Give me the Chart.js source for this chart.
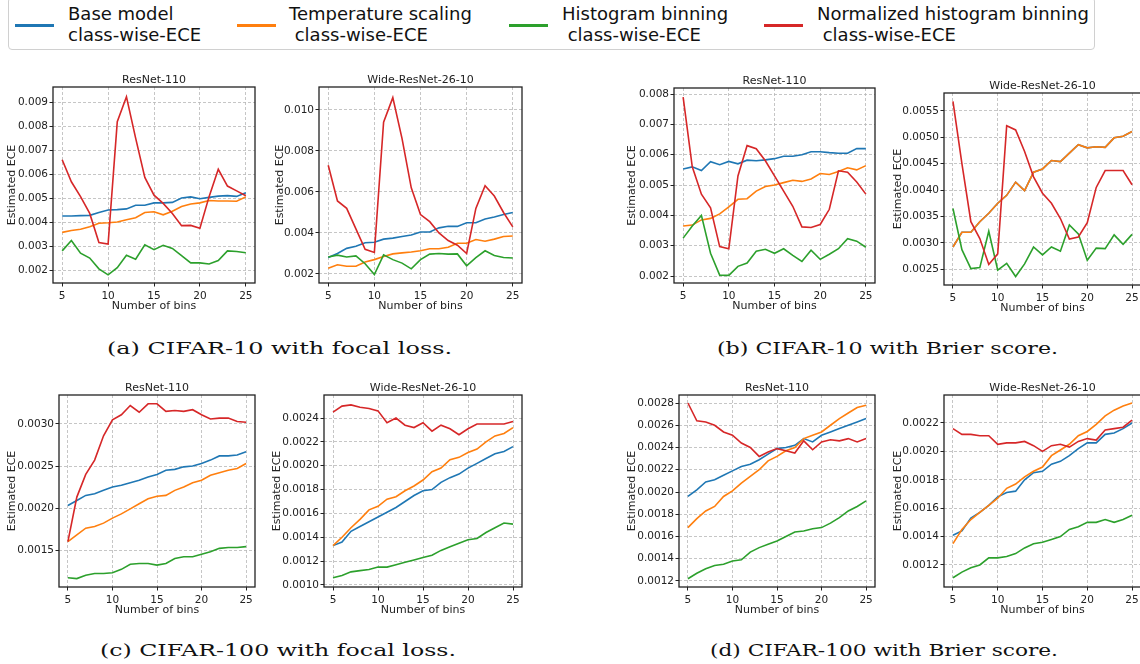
<!DOCTYPE html>
<html>
<head>
<meta charset="utf-8">
<script src="https://cdn.jsdelivr.net/npm/chart.js@4.4.1/dist/chart.umd.min.js"></script>
<style>
  html, body { margin: 0; padding: 0; background: #fff; }
  #fig { position: relative; width: 1140px; height: 664px; overflow: hidden; background: #fff; }
  #legend {
    position: absolute; left: 8px; top: -3px; width: 1087px; height: 53px;
    border: 1px solid #d0d0d0; border-radius: 4px; box-sizing: border-box;
  }
  .swatch { position: absolute; height: 3px; width: 39px; top: 26px; }
  .ltext {
    position: absolute; top: 5px; font-family: "DejaVu Sans", sans-serif; font-size: 18px;
    line-height: 21px; color: #111; white-space: pre;
  }
  .caption {
    position: absolute; font-family: "DejaVu Serif", serif; font-size: 16px; line-height: 20px;
    color: #111; white-space: pre; transform-origin: 0 50%;
  }
</style>
</head>
<body>
<div id="fig"><div id="legend"></div></div>
<script>
const bins = [5, 6, 7, 8, 9, 10, 11, 12, 13, 14, 15, 16, 17, 18, 19, 20, 21, 22, 23, 24, 25];
const xTicks = [5, 10, 15, 20, 25];

const seriesNames = [
  "Base model\nclass-wise-ECE",
  "Temperature scaling\n class-wise-ECE",
  "Histogram binning\n class-wise-ECE",
  "Normalized histogram binning\n class-wise-ECE"
];
const seriesColors = ["#1f77b4", "#ff7f0e", "#2ca02c", "#d62728"];

// (a) CIFAR-10 with focal loss
const a1Base = [0.00425,0.00425,0.00427,0.00428,0.00440,0.00450,0.00452,0.00455,0.00470,0.00470,0.00480,0.00480,0.00482,0.00500,0.00505,0.00497,0.00503,0.00508,0.00510,0.00507,0.00522];
const a1Temp = [0.00357,0.00365,0.00370,0.00380,0.00395,0.00397,0.00400,0.00410,0.00418,0.00440,0.00443,0.00430,0.00445,0.00465,0.00475,0.00480,0.00490,0.00488,0.00488,0.00487,0.00505];
const a1Hist = [0.00280,0.00323,0.00270,0.00250,0.00205,0.00180,0.00210,0.00262,0.00245,0.00305,0.00285,0.00303,0.00290,0.00260,0.00230,0.00230,0.00225,0.00240,0.00280,0.00277,0.00272];
const a1Norm = [0.00660,0.00568,0.00506,0.00436,0.00315,0.00308,0.00818,0.00922,0.00750,0.00586,0.00512,0.00478,0.00436,0.00385,0.00386,0.00374,0.00506,0.00620,0.00550,0.00530,0.00510];

const a2Base = [0.00280,0.00300,0.00325,0.00335,0.00352,0.00355,0.00370,0.00375,0.00383,0.00390,0.00405,0.00405,0.00425,0.00433,0.00432,0.00450,0.00450,0.00468,0.00478,0.00490,0.00500];
const a2Temp = [0.00228,0.00245,0.00238,0.00238,0.00258,0.00270,0.00285,0.00298,0.00303,0.00307,0.00313,0.00323,0.00323,0.00330,0.00350,0.00350,0.00368,0.00360,0.00370,0.00383,0.00385];
const a2Hist = [0.00283,0.00292,0.00283,0.00288,0.00250,0.00197,0.00293,0.00270,0.00253,0.00225,0.00270,0.00297,0.00300,0.00297,0.00298,0.00240,0.00280,0.00313,0.00290,0.00280,0.00278];
const a2Norm = [0.00730,0.00556,0.00520,0.00420,0.00320,0.00305,0.00940,0.01060,0.00860,0.00620,0.00490,0.00455,0.00400,0.00363,0.00340,0.00300,0.00520,0.00630,0.00580,0.00500,0.00430];

// (b) CIFAR-10 with Brier score
const b1Base = [0.00553,0.00560,0.00548,0.00577,0.00567,0.00578,0.00570,0.00582,0.00580,0.00583,0.00587,0.00595,0.00595,0.00600,0.00610,0.00610,0.00607,0.00605,0.00605,0.00620,0.00620];
const b1Temp = [0.00365,0.00368,0.00385,0.00390,0.00405,0.00428,0.00453,0.00455,0.00480,0.00495,0.00500,0.00508,0.00516,0.00512,0.00520,0.00538,0.00535,0.00545,0.00557,0.00550,0.00564];
const b1Hist = [0.00325,0.00365,0.00400,0.00275,0.00203,0.00202,0.00232,0.00243,0.00282,0.00288,0.00275,0.00290,0.00268,0.00248,0.00285,0.00255,0.00272,0.00290,0.00323,0.00315,0.00295];
const b1Norm = [0.00790,0.00560,0.00470,0.00425,0.00297,0.00290,0.00530,0.00630,0.00620,0.00580,0.00530,0.00480,0.00430,0.00362,0.00360,0.00370,0.00420,0.00547,0.00542,0.00510,0.00470];

const b2Base = [0.00292,0.00320,0.00320,0.00340,0.00356,0.00375,0.00390,0.00415,0.00399,0.00434,0.00440,0.00456,0.00454,0.00470,0.00486,0.00480,0.00482,0.00481,0.00499,0.00502,0.00511];
const b2Temp = [0.00292,0.00320,0.00320,0.00340,0.00356,0.00375,0.00390,0.00415,0.00399,0.00434,0.00440,0.00456,0.00454,0.00470,0.00486,0.00480,0.00482,0.00481,0.00499,0.00502,0.00511];
const b2Hist = [0.00365,0.00287,0.00251,0.00253,0.00322,0.00248,0.00261,0.00236,0.00260,0.00292,0.00277,0.00292,0.00284,0.00334,0.00317,0.00267,0.00290,0.00289,0.00315,0.00297,0.00316];
const b2Norm = [0.00568,0.00450,0.00340,0.00308,0.00259,0.00279,0.00522,0.00514,0.00473,0.00425,0.00394,0.00375,0.00346,0.00307,0.00311,0.00338,0.00405,0.00437,0.00437,0.00437,0.00410];

// (c) CIFAR-100 with focal loss
const c1Base = [0.00203,0.00209,0.00215,0.00217,0.00221,0.00225,0.00227,0.00230,0.00233,0.00237,0.00240,0.00245,0.00246,0.00249,0.00250,0.00253,0.00257,0.00262,0.00262,0.00263,0.00267];
const c1Temp = [0.00160,0.00168,0.00176,0.00178,0.00182,0.00188,0.00193,0.00199,0.00205,0.00211,0.00214,0.00215,0.00221,0.00225,0.00230,0.00233,0.00239,0.00242,0.00245,0.00247,0.00253];
const c1Hist = [0.00117,0.00116,0.00120,0.00122,0.00122,0.00123,0.00127,0.00133,0.00134,0.00134,0.00132,0.00134,0.00140,0.00142,0.00142,0.00145,0.00148,0.00152,0.00153,0.00153,0.00154];
const c1Norm = [0.00160,0.00213,0.00240,0.00257,0.00286,0.00305,0.00311,0.00322,0.00314,0.00324,0.00324,0.00315,0.00316,0.00315,0.00317,0.00311,0.00306,0.00307,0.00307,0.00303,0.00302];

const c2Base = [0.00133,0.00136,0.00145,0.00149,0.00153,0.00157,0.00161,0.00165,0.00170,0.00175,0.00179,0.00180,0.00186,0.00190,0.00193,0.00198,0.00202,0.00206,0.00210,0.00212,0.00216];
const c2Temp = [0.00133,0.00140,0.00148,0.00155,0.00163,0.00166,0.00172,0.00174,0.00179,0.00183,0.00188,0.00195,0.00198,0.00205,0.00207,0.00211,0.00214,0.00220,0.00225,0.00227,0.00232];
const c2Hist = [0.00106,0.00108,0.00111,0.00112,0.00113,0.00115,0.00115,0.00117,0.00119,0.00121,0.00123,0.00125,0.00129,0.00132,0.00135,0.00138,0.00139,0.00144,0.00148,0.00152,0.00151];
const c2Norm = [0.00245,0.00250,0.00251,0.00249,0.00248,0.00246,0.00236,0.00240,0.00234,0.00232,0.00236,0.00229,0.00234,0.00231,0.00226,0.00231,0.00235,0.00235,0.00235,0.00235,0.00237];

// (d) CIFAR-100 with Brier score
const d1Base = [0.00196,0.00202,0.00209,0.00211,0.00215,0.00219,0.00223,0.00225,0.00229,0.00234,0.00239,0.00240,0.00242,0.00248,0.00245,0.00251,0.00254,0.00257,0.00260,0.00263,0.00266];
const d1Temp = [0.00168,0.00176,0.00183,0.00187,0.00196,0.00201,0.00208,0.00214,0.00220,0.00228,0.00232,0.00237,0.00240,0.00248,0.00251,0.00254,0.00260,0.00266,0.00271,0.00276,0.00278];
const d1Hist = [0.00122,0.00127,0.00131,0.00134,0.00135,0.00138,0.00139,0.00146,0.00150,0.00153,0.00156,0.00160,0.00164,0.00165,0.00167,0.00168,0.00172,0.00177,0.00183,0.00187,0.00192];
const d1Norm = [0.00280,0.00264,0.00263,0.00260,0.00254,0.00251,0.00244,0.00240,0.00232,0.00236,0.00239,0.00237,0.00235,0.00246,0.00238,0.00245,0.00247,0.00246,0.00248,0.00245,0.00248];

const d2Base = [0.00141,0.00144,0.00153,0.00157,0.00162,0.00168,0.00171,0.00172,0.00180,0.00185,0.00186,0.00191,0.00193,0.00197,0.00202,0.00206,0.00206,0.00212,0.00213,0.00216,0.00220];
const d2Temp = [0.00135,0.00145,0.00152,0.00157,0.00162,0.00167,0.00174,0.00177,0.00182,0.00186,0.00189,0.00197,0.00201,0.00205,0.00211,0.00214,0.00219,0.00225,0.00229,0.00232,0.00234];
const d2Hist = [0.00111,0.00115,0.00118,0.00120,0.00125,0.00125,0.00126,0.00128,0.00132,0.00135,0.00136,0.00138,0.00140,0.00145,0.00147,0.00150,0.00150,0.00152,0.00150,0.00152,0.00155];
const d2Norm = [0.00216,0.00212,0.00212,0.00211,0.00211,0.00205,0.00206,0.00206,0.00207,0.00204,0.00200,0.00204,0.00205,0.00203,0.00207,0.00209,0.00208,0.00215,0.00216,0.00217,0.00222];

// y tick labels per panel
const yTicksA1 = ["0.002", "0.003", "0.004", "0.005", "0.006", "0.007", "0.008", "0.009"];
const yTicksA2 = ["0.002", "0.004", "0.006", "0.008", "0.010"];
const yTicksB1 = ["0.002", "0.003", "0.004", "0.005", "0.006", "0.007", "0.008"];
const yTicksB2 = ["0.0025", "0.0030", "0.0035", "0.0040", "0.0045", "0.0050", "0.0055"];
const yTicksC1 = ["0.0015", "0.0020", "0.0025", "0.0030"];
const yTicksC2 = ["0.0010", "0.0012", "0.0014", "0.0016", "0.0018", "0.0020", "0.0022", "0.0024"];
const yTicksD1 = ["0.0012", "0.0014", "0.0016", "0.0018", "0.0020", "0.0022", "0.0024", "0.0026", "0.0028"];
const yTicksD2 = ["0.0012", "0.0014", "0.0016", "0.0018", "0.0020", "0.0022"];

const captions = [
  { text: "(a) CIFAR-10 with focal loss.", x0: 107, x1: 452, y: 339 },
  { text: "(b) CIFAR-10 with Brier score.", x0: 717, x1: 1058, y: 339 },
  { text: "(c) CIFAR-100 with focal loss.", x0: 100, x1: 456, y: 641 },
  { text: "(d) CIFAR-100 with Brier score.", x0: 710, x1: 1058, y: 641 }
];

// panel boxes: plot area in page pixels, y range of axis
const panels = [
  { title: "ResNet-110",        series: [a1Base, a1Temp, a1Hist, a1Norm], yTicks: yTicksA1, yMin: 0.00146,  yMax: 0.00963,  L: 53,  R: 255,  T: 87,  B: 283, yOff: 41 },
  { title: "Wide-ResNet-26-10", series: [a2Base, a2Temp, a2Hist, a2Norm], yTicks: yTicksA2, yMin: 0.00156,  yMax: 0.01112,  L: 319, R: 522,  T: 87,  B: 283, yOff: 39 },
  { title: "ResNet-110",        series: [b1Base, b1Temp, b1Hist, b1Norm], yTicks: yTicksB1, yMin: 0.00177,  yMax: 0.0082,   L: 674, R: 875,  T: 88,  B: 283, yOff: 42 },
  { title: "Wide-ResNet-26-10", series: [b2Base, b2Temp, b2Hist, b2Norm], yTicks: yTicksB2, yMin: 0.0022,   yMax: 0.00584,  L: 944, R: 1141, T: 93,  B: 285, yOff: 46 },
  { title: "ResNet-110",        series: [c1Base, c1Temp, c1Hist, c1Norm], yTicks: yTicksC1, yMin: 0.00106,  yMax: 0.003345, L: 59,  R: 255,  T: 395, B: 587, yOff: 47 },
  { title: "Wide-ResNet-26-10", series: [c2Base, c2Temp, c2Hist, c2Norm], yTicks: yTicksC2, yMin: 0.000983, yMax: 0.002593, L: 324, R: 522,  T: 395, B: 587, yOff: 47 },
  { title: "ResNet-110",        series: [d1Base, d1Temp, d1Hist, d1Norm], yTicks: yTicksD1, yMin: 0.001146, yMax: 0.002872, L: 679, R: 875,  T: 395, B: 587, yOff: 47 },
  { title: "Wide-ResNet-26-10", series: [d2Base, d2Temp, d2Hist, d2Norm], yTicks: yTicksD2, yMin: 0.001045, yMax: 0.002397, L: 944, R: 1141, T: 395, B: 587, yOff: 46 }
];

const FONT = "'DejaVu Sans', sans-serif";
const TEXT = "#222";
const fig = document.getElementById("fig");

// matplotlib style spines drawn over the lines
const framePlugin = {
  id: "frame",
  afterDatasetsDraw(chart) {
    const { ctx, chartArea: a } = chart;
    ctx.save();
    ctx.setLineDash([]);
    ctx.strokeStyle = "#222";
    ctx.lineWidth = 1.3;
    ctx.strokeRect(a.left, a.top, a.right - a.left, a.bottom - a.top);
    ctx.restore();
  }
};

function makePanel(p) {
  const titleH = 18, xH = 36, padR = 4;
  const yW = p.yOff + 9;
  const w = yW + (p.R - p.L) + padR;
  const h = titleH + (p.B - p.T) + xH;
  const canvas = document.createElement("canvas");
  canvas.width = w;
  canvas.height = h;
  canvas.style.cssText = `position:absolute;left:${p.L - yW}px;top:${p.T - titleH}px;width:${w}px;height:${h}px;`;
  fig.appendChild(canvas);

  const grid = {
    color: "#b8b8b8", lineWidth: 0.8, borderDash: [3, 2],
    drawTicks: true, tickLength: 3.5, tickColor: "#222", tickWidth: 1, tickBorderDash: []
  };

  new Chart(canvas, {
    type: "line",
    data: {
      datasets: p.series.map((vals, i) => ({
        label: seriesNames[i],
        data: bins.map((b, k) => ({ x: b, y: vals[k] })),
        borderColor: seriesColors[i],
        backgroundColor: seriesColors[i],
        borderWidth: 1.6,
        pointRadius: 0,
        tension: 0,
        fill: false,
        order: 4 - i
      }))
    },
    options: {
      responsive: false,
      animation: false,
      devicePixelRatio: 1,
      layout: { padding: { left: 0, right: padR, top: 0, bottom: 0 } },
      plugins: {
        legend: { display: false },
        tooltip: { enabled: false },
        title: {
          display: true, text: p.title, color: TEXT, fullSize: false,
          font: { family: FONT, size: 11, weight: "normal", lineHeight: 1 },
          padding: { top: 6, bottom: 1 }
        }
      },
      scales: {
        x: {
          type: "linear", min: 4, max: 26, bounds: "data",
          afterBuildTicks: s => { s.ticks = xTicks.map(v => ({ value: v })); },
          afterFit: s => { s.height = xH; },
          ticks: {
            callback: v => String(v), color: TEXT, padding: 3, maxRotation: 0, autoSkip: false,
            font: { family: FONT, size: 10.5 }
          },
          grid: grid,
          border: { display: false, dash: [3, 2] },
          title: {
            display: true, text: "Number of bins", color: TEXT,
            font: { family: FONT, size: 11 }, padding: { top: 0, bottom: 6.4 }
          }
        },
        y: {
          type: "linear", min: p.yMin, max: p.yMax, bounds: "data",
          afterBuildTicks: s => { s.ticks = p.yTicks.map(t => ({ value: parseFloat(t) })); },
          afterFit: s => { s.width = yW; },
          ticks: {
            callback: v => p.yTicks.find(t => Math.abs(parseFloat(t) - v) < 1e-9) || "",
            color: TEXT, padding: 1.5, autoSkip: false,
            font: { family: FONT, size: 10.5 }
          },
          grid: grid,
          border: { display: false, dash: [3, 2] },
          title: {
            display: true, text: "Estimated ECE", color: TEXT,
            font: { family: FONT, size: 11 }, padding: { top: 2.4, bottom: 0 }
          }
        }
      }
    },
    plugins: [framePlugin]
  });
}

panels.forEach(makePanel);

// legend across the top
const legend = document.getElementById("legend");
const swatchX = [6, 228, 500, 755];
const textX = [59, 280, 553, 808];
seriesNames.forEach((name, i) => {
  const sw = document.createElement("div");
  sw.className = "swatch";
  sw.style.left = swatchX[i] + "px";
  sw.style.background = seriesColors[i];
  legend.appendChild(sw);
  const t = document.createElement("div");
  t.className = "ltext";
  t.style.left = textX[i] + "px";
  t.textContent = name;
  legend.appendChild(t);
});

// sub-figure captions, stretched to the width they take in the figure
captions.forEach(c => {
  const d = document.createElement("div");
  d.className = "caption";
  d.textContent = c.text;
  d.style.left = c.x0 + "px";
  d.style.top = c.y + "px";
  fig.appendChild(d);
  const wNow = d.getBoundingClientRect().width;
  d.style.transform = `scaleX(${(c.x1 - c.x0) / wNow})`;
});
</script>
</body>
</html>
